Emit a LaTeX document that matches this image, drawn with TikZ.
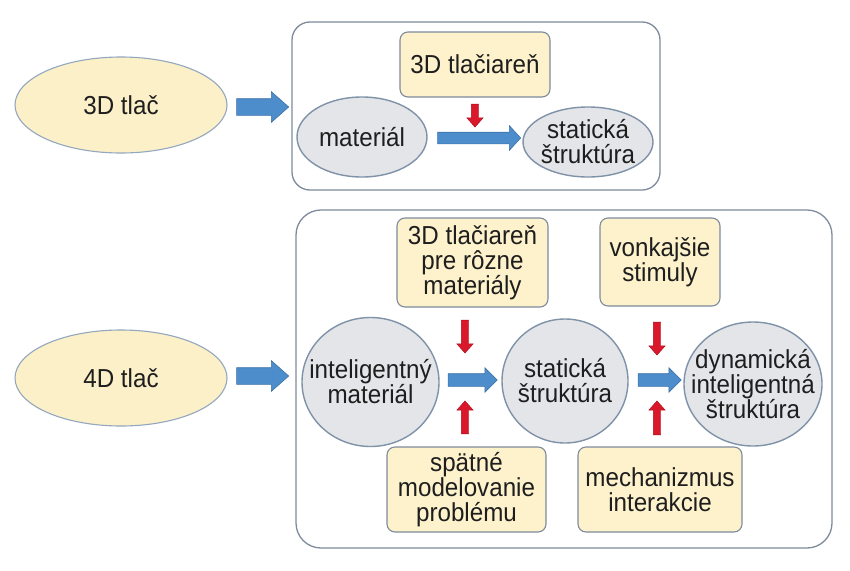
\documentclass[tikz,border=0pt]{standalone}
\usepackage{fontspec}
\setmainfont[FakeStretch=0.93]{Liberation Sans}
\usetikzlibrary{shapes.geometric,shapes.arrows}
\definecolor{yfill}{HTML}{FDF2CC}
\definecolor{eyfill}{HTML}{FCF0C9}
\definecolor{gfill}{HTML}{E3E5E9}
\definecolor{boxline}{HTML}{7D8B9C}
\definecolor{elline}{HTML}{93A7BE}
\definecolor{gline}{HTML}{7F92A8}
\definecolor{bfill}{HTML}{4E8DCB}
\definecolor{bline}{HTML}{3D72A8}
\definecolor{rfill}{HTML}{D9192B}
\definecolor{rline}{HTML}{A8101E}
\definecolor{txt}{HTML}{1E1E1E}
\begin{document}
\begin{tikzpicture}[x=1pt,y=-1pt,
  font=\fontsize{26}{25}\selectfont, text=txt,
  frame/.style={draw=boxline, line width=1.3pt, rounded corners=#1, inner sep=0pt},
  ybox/.style={draw=boxline, fill=yfill, line width=1.1pt, rounded corners=8pt, align=center, inner sep=0pt},
  yell/.style={ellipse, draw=elline, fill=eyfill, line width=1.1pt, inner sep=0pt},
  gell/.style={ellipse, draw=gline, fill=gfill, line width=1.4pt, inner sep=0pt},
  etext/.style={label={[align=center, inner sep=0pt]center:#1}},
  barrow/.style={single arrow, draw=bline, fill=bfill, line width=0.6pt, inner xsep=0pt, minimum width=0pt},
  rarrow/.style={single arrow, draw=rline, fill=rfill, line width=0.4pt, inner xsep=0pt, minimum width=0pt,
    inner ysep=3.5pt, single arrow head extend=4.5pt, single arrow tip angle=83},
]
\fill[white] (0,0) rectangle (850,570);
\useasboundingbox (0,0) rectangle (850,570);

% ---------- 3D ----------
\node[yell, minimum width=212, minimum height=96, etext={3D tlač}] (t3d) at (121,105) {};
\node[barrow, inner ysep=8pt, single arrow head extend=7pt, single arrow tip angle=83,
      minimum height=52] (a3d) at (258,107) {};
\node[frame=18pt, minimum width=368, minimum height=168] (top) at (476,106) {};
\node[ybox, minimum width=150, minimum height=65] (p3d) at (475,64.5) {3D tlačiareň};
\node[gell, minimum width=130, minimum height=80, etext={materiál}] (mat) at (362,137) {};
\node[gell, minimum width=130, minimum height=70, etext={statická\\štruktúra}] (stat1) at (588,142) {};
\node[barrow, inner ysep=5.5pt, single arrow head extend=6.5pt, single arrow tip angle=95,
      minimum height=83] (am1) at (476.5,138) {};
\node[rarrow, rotate=-90, minimum height=23] (rp1) at (475,113.5) {};

% ---------- 4D ----------
\node[yell, minimum width=212, minimum height=96, etext={4D tlač}] (t4d) at (121,378) {};
\node[barrow, inner ysep=8pt, single arrow head extend=7pt, single arrow tip angle=83,
      minimum height=52] (a4d) at (258,376) {};
\node[frame=25pt, minimum width=536, minimum height=338] (big) at (564,379) {};
\node[ybox, minimum width=151, minimum height=89] (p4d) at (472.5,262.5) {3D tlačiareň\\pre rôzne\\materiály};
\node[ybox, minimum width=120, minimum height=88] (stim) at (660,262) {vonkajšie\\stimuly};
\node[gell, minimum width=137, minimum height=129, etext={inteligentný\\materiál}] (imat) at (370.5,382) {};
\node[gell, minimum width=126, minimum height=124, etext={statická\\štruktúra}] (stat2) at (565,381) {};
\node[gell, minimum width=138, minimum height=124, etext={dynamická\\inteligentná\\štruktúra}] (dyn) at (753,384) {};
\node[ybox, minimum width=159, minimum height=85] (spat) at (466.5,489.5) {spätné\\modelovanie\\problému};
\node[ybox, minimum width=164, minimum height=85] (mech) at (660,489.5) {mechanizmus\\interakcie};

\node[barrow, inner ysep=6pt, single arrow head extend=6pt, single arrow tip angle=90,
      minimum height=49] (am2) at (469.5,380) {};
\node[barrow, inner ysep=6pt, single arrow head extend=6pt, single arrow tip angle=90,
      minimum height=43] (am3) at (656.5,380) {};
\node[rarrow, rotate=-90, minimum height=33] (rd1) at (465,334.5) {};
\node[rarrow, rotate=-90, minimum height=33] (rd2) at (657,336.5) {};
\node[rarrow, rotate=90, minimum height=33] (ru1) at (465,419.5) {};
\node[rarrow, rotate=90, minimum height=34] (ru2) at (657,420) {};
\end{tikzpicture}
\end{document}
